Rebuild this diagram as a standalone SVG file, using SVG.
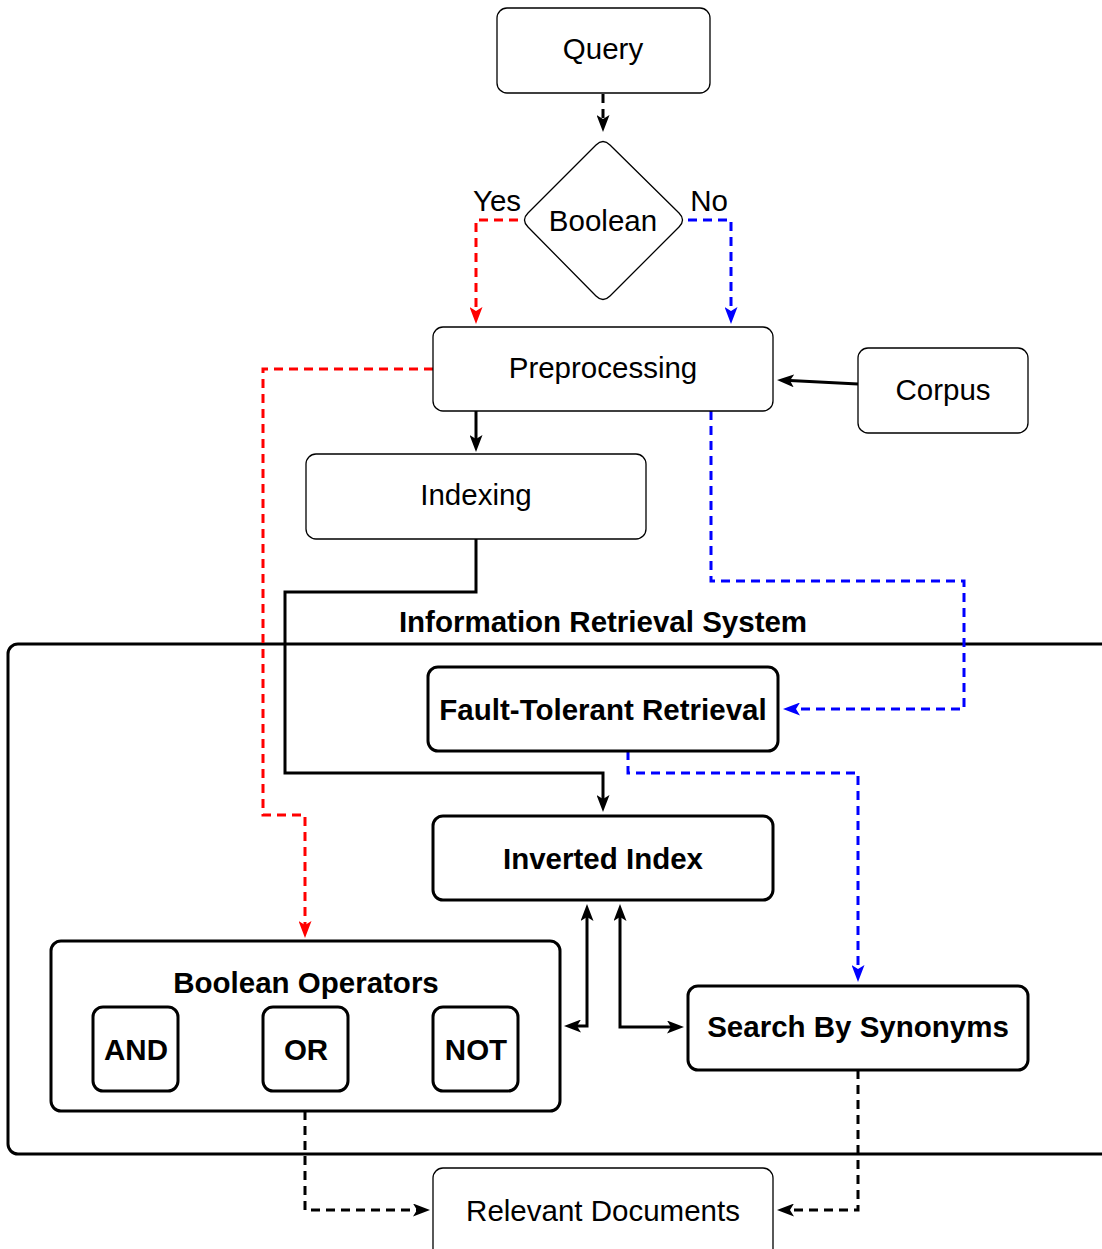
<svg xmlns="http://www.w3.org/2000/svg" width="1102" height="1249" viewBox="0 0 1102 1249">
<defs>
<style>
.n{fill:#fff;stroke:#000;stroke-width:1.3}
.b{fill:#fff;stroke:#000;stroke-width:3}
.t{font-family:"Liberation Sans",Arial,sans-serif;font-size:29.5px;fill:#000;text-anchor:middle;dominant-baseline:central}
.tb{font-family:"Liberation Sans",Arial,sans-serif;font-size:29.5px;font-weight:bold;fill:#000;text-anchor:middle;dominant-baseline:central}
.c{fill:none;stroke-width:3}
.dk{stroke:#000;stroke-dasharray:9,6;marker-end:url(#ak)}
.dr{stroke:#f00;stroke-dasharray:9,6;marker-end:url(#ar)}
.db{stroke:#00f;stroke-dasharray:9,6;marker-end:url(#ab)}
.s{stroke:#000;marker-end:url(#ak)}
.dd{stroke:#000;marker-end:url(#ak);marker-start:url(#ak)}
</style>
<marker id="ak" viewBox="0 0 17 13" refX="4" refY="6.5" markerWidth="17" markerHeight="13" markerUnits="userSpaceOnUse" orient="auto-start-reverse"><path d="M0,0 L17,6.5 L0,13 L4,6.5 Z" fill="#000"/></marker>
<marker id="ar" viewBox="0 0 17 13" refX="4" refY="6.5" markerWidth="17" markerHeight="13" markerUnits="userSpaceOnUse" orient="auto"><path d="M0,0 L17,6.5 L0,13 L4,6.5 Z" fill="#f00"/></marker>
<marker id="ab" viewBox="0 0 17 13" refX="4" refY="6.5" markerWidth="17" markerHeight="13" markerUnits="userSpaceOnUse" orient="auto"><path d="M0,0 L17,6.5 L0,13 L4,6.5 Z" fill="#00f"/></marker>
</defs>
<g id="container">
<rect x="8" y="644" width="1120" height="510" rx="10" fill="none" stroke="#000" stroke-width="3"/>
<text class="tb" x="603" y="621">Information Retrieval System</text>
</g>
<g id="connectors">
<path class="c dk" d="M603,94 V119"/>
<path class="c dr" d="M518,220 H476 V311"/>
<path class="c db" d="M688,220 H731 V311"/>
<path class="c s" d="M858,384 L790,380.6"/>
<path class="c s" d="M476,411 V439"/>
<path class="c s" d="M476,539 V592 H285 V773 H603 V799"/>
<path class="c dr" d="M433,369 H263 V815 H305 V925"/>
<path class="c db" d="M711,411 V581 H964 V709 H796"/>
<path class="c db" d="M628,751 V773 H858 V969"/>
<path class="c dd" d="M587,917 V1026 H577"/>
<path class="c dd" d="M620,917 V1027 H671"/>
<path class="c dk" d="M305,1111 V1210 H417"/>
<path class="c dk" d="M858,1070 V1210 H790"/>
</g>
<g id="labels">
<text class="t" x="497" y="200">Yes</text>
<text class="t" x="709" y="200">No</text>
</g>
<g id="query"><rect class="n" x="497" y="8" width="213" height="85" rx="10"/><text class="t" x="603" y="48">Query</text></g>
<g id="boolean"><path class="n" d="M596,145 Q603,138 610,145 L679,213 Q686,220 679,227 L610,296 Q603,303 596,296 L528,227 Q521,220 528,213 Z"/><text class="t" x="603" y="220">Boolean</text></g>
<g id="preprocessing"><rect class="n" x="433" y="327" width="340" height="84" rx="10"/><text class="t" x="603" y="367">Preprocessing</text></g>
<g id="corpus"><rect class="n" x="858" y="348" width="170" height="85" rx="10"/><text class="t" x="943" y="389">Corpus</text></g>
<g id="indexing"><rect class="n" x="306" y="454" width="340" height="85" rx="10"/><text class="t" x="476" y="494">Indexing</text></g>
<g id="fault-tolerant"><rect class="b" x="428" y="667" width="350" height="84" rx="10"/><text class="tb" x="603" y="709">Fault-Tolerant Retrieval</text></g>
<g id="inverted-index"><rect class="b" x="433" y="816" width="340" height="84" rx="10"/><text class="tb" x="603" y="858">Inverted Index</text></g>
<g id="boolean-operators"><rect class="b" x="51" y="941" width="509" height="170" rx="10"/><text class="tb" x="306" y="982">Boolean Operators</text></g>
<g id="and"><rect class="b" x="93" y="1007" width="85" height="84" rx="10"/><text class="tb" x="136" y="1049">AND</text></g>
<g id="or"><rect class="b" x="263" y="1007" width="85" height="84" rx="10"/><text class="tb" x="306" y="1049">OR</text></g>
<g id="not"><rect class="b" x="433" y="1007" width="85" height="84" rx="10"/><text class="tb" x="476" y="1049">NOT</text></g>
<g id="search-synonyms"><rect class="b" x="688" y="986" width="340" height="84" rx="10"/><text class="tb" x="858" y="1026">Search By Synonyms</text></g>
<g id="relevant-documents"><rect class="n" x="433" y="1168" width="340" height="100" rx="10"/><text class="t" x="603" y="1210">Relevant Documents</text></g>
</svg>
